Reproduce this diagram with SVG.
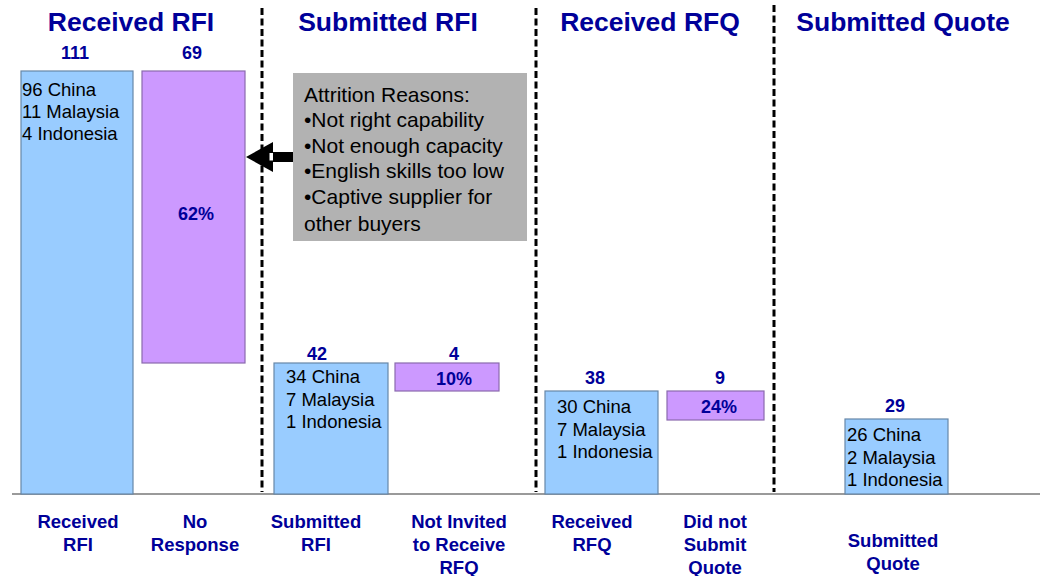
<svg xmlns="http://www.w3.org/2000/svg" width="1040" height="576" viewBox="0 0 1040 576">
  <style>
    .hdr { font-family: "Liberation Sans", Arial, sans-serif; font-weight: bold; font-size: 26.5px; fill: #000099; text-anchor: middle; }
    .num { font-family: "Liberation Sans", Arial, sans-serif; font-weight: bold; font-size: 18px; fill: #000099; text-anchor: middle; }
    .lbl { font-family: "Liberation Sans", Arial, sans-serif; font-weight: bold; font-size: 18.5px; fill: #000099; text-anchor: middle; }
    .body { font-family: "Liberation Sans", Arial, sans-serif; font-size: 18.5px; fill: #000000; }
    .note { font-family: "Liberation Sans", Arial, sans-serif; font-size: 21px; fill: #000000; }
    .blue { fill: #99ccff; stroke: #6787a8; stroke-width: 1.2; }
    .purple { fill: #cc99ff; stroke: #8a6aae; stroke-width: 1.2; }
    .divider { stroke: #000000; stroke-width: 3; stroke-dasharray: 7 3.5; fill: none; }
  </style>

  <rect width="1040" height="576" fill="#ffffff"/>

  <!-- stage headings -->
  <g id="headings">
    <text class="hdr" x="131" y="31">Received RFI</text>
    <text class="hdr" x="388" y="31">Submitted RFI</text>
    <text class="hdr" x="650" y="31">Received RFQ</text>
    <text class="hdr" x="903" y="31">Submitted Quote</text>
  </g>

  <!-- baseline and stage dividers -->
  <g id="connectors">
    <line x1="12" y1="494" x2="1040" y2="494" stroke="#9a9a9a" stroke-width="2"/>
    <line class="divider" x1="262" y1="8" x2="262" y2="492"/>
    <line class="divider" x1="536" y1="8" x2="536" y2="492"/>
    <line class="divider" x1="774" y1="5" x2="774" y2="492"/>
    <g id="arrow">
      <polygon points="246,157 273,142 273,172" fill="#000000"/>
      <rect x="273" y="152" width="20" height="10" fill="#000000"/>
      <rect x="269.5" y="153" width="3.5" height="7.5" fill="#ffffff"/>
    </g>
  </g>

  <!-- Received RFI -->
  <g id="received-rfi">
    <text class="num" x="75" y="59">111</text>
    <rect class="blue" x="21" y="71" width="112" height="423"/>
    <text class="body" x="22" y="96">96 China</text>
    <text class="body" x="22" y="118">11 Malaysia</text>
    <text class="body" x="22" y="140">4 Indonesia</text>
    <text class="lbl" x="78" y="528">Received</text>
    <text class="lbl" x="78" y="551">RFI</text>
  </g>

  <!-- No Response -->
  <g id="no-response">
    <text class="num" x="192" y="59">69</text>
    <rect class="purple" x="142" y="71" width="103" height="292"/>
    <text class="num" x="196" y="220">62%</text>
    <text class="lbl" x="195" y="528">No</text>
    <text class="lbl" x="195" y="551">Response</text>
  </g>

  <!-- Attrition reasons note -->
  <g id="attrition-reasons">
    <rect x="293" y="73" width="234" height="168" fill="#b2b2b2"/>
    <text class="note" x="304" y="102">Attrition Reasons:</text>
    <text class="note" x="304" y="127">•Not right capability</text>
    <text class="note" x="304" y="153">•Not enough capacity</text>
    <text class="note" x="304" y="178">•English skills too low</text>
    <text class="note" x="304" y="204">•Captive supplier for</text>
    <text class="note" x="304" y="231">other buyers</text>
  </g>

  <!-- Submitted RFI -->
  <g id="submitted-rfi">
    <text class="num" x="317" y="360">42</text>
    <rect class="blue" x="274" y="363" width="114" height="131"/>
    <text class="body" x="286" y="383">34 China</text>
    <text class="body" x="286" y="406">7 Malaysia</text>
    <text class="body" x="286" y="428">1 Indonesia</text>
    <text class="lbl" x="316" y="528">Submitted</text>
    <text class="lbl" x="316" y="551">RFI</text>
  </g>

  <!-- Not Invited to Receive RFQ -->
  <g id="not-invited">
    <text class="num" x="454" y="360">4</text>
    <rect class="purple" x="395" y="363" width="104" height="28"/>
    <text class="num" x="454" y="385">10%</text>
    <text class="lbl" x="459" y="528">Not Invited</text>
    <text class="lbl" x="459" y="551">to Receive</text>
    <text class="lbl" x="459" y="574">RFQ</text>
  </g>

  <!-- Received RFQ -->
  <g id="received-rfq">
    <text class="num" x="595" y="384">38</text>
    <rect class="blue" x="545" y="391" width="113" height="103"/>
    <text class="body" x="557" y="413">30 China</text>
    <text class="body" x="557" y="436">7 Malaysia</text>
    <text class="body" x="557" y="458">1 Indonesia</text>
    <text class="lbl" x="592" y="528">Received</text>
    <text class="lbl" x="592" y="551">RFQ</text>
  </g>

  <!-- Did not Submit Quote -->
  <g id="did-not-submit">
    <text class="num" x="720" y="384">9</text>
    <rect class="purple" x="667" y="391" width="97" height="29"/>
    <text class="num" x="719" y="413">24%</text>
    <text class="lbl" x="715" y="528">Did not</text>
    <text class="lbl" x="715" y="551">Submit</text>
    <text class="lbl" x="715" y="574">Quote</text>
  </g>

  <!-- Submitted Quote -->
  <g id="submitted-quote">
    <text class="num" x="895" y="412">29</text>
    <rect class="blue" x="845" y="419" width="103" height="75"/>
    <text class="body" x="847" y="441">26 China</text>
    <text class="body" x="847" y="464">2 Malaysia</text>
    <text class="body" x="847" y="486">1 Indonesia</text>
    <text class="lbl" x="893" y="547">Submitted</text>
    <text class="lbl" x="893" y="570">Quote</text>
  </g>
</svg>
